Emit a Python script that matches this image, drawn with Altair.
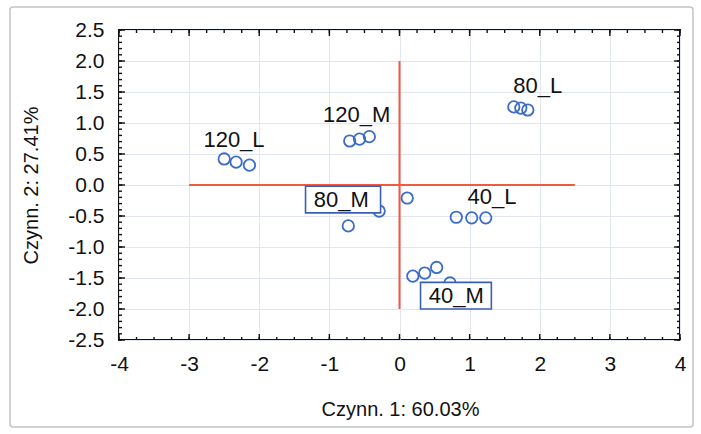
import altair as alt
import pandas as pd

# --- data ---
groups = ["120_L"] * 3 + ["120_M"] * 3 + ["80_L"] * 3 + ["80_M"] * 3 + ["40_L"] * 3 + ["40_M"] * 4
pc1 = [-2.50, -2.33, -2.14,
       -0.71, -0.57, -0.43,
       1.63, 1.73, 1.83,
       -0.29, -0.73, 0.11,
       0.81, 1.03, 1.23,
       0.19, 0.36, 0.53, 0.72]
pc2 = [0.42, 0.37, 0.32,
       0.71, 0.74, 0.78,
       1.26, 1.24, 1.21,
       -0.42, -0.66, -0.21,
       -0.52, -0.53, -0.53,
       -1.47, -1.42, -1.33, -1.58]

label_text = ["120_L", "120_M", "80_L", "40_L", "80_M", "40_M"]
label_x = [-2.36, -0.61, 1.97, 1.32, -0.83, 0.81]
label_y = [0.73, 1.13, 1.60, -0.19, -0.24, -1.79]

box_text = ["80_M", "40_M"]
box_x1 = [-1.34, 0.30]
box_x2 = [-0.27, 1.31]
box_y1 = [-0.02, -1.57]
box_y2 = [-0.45, -2.00]

x_ticks = [-4, -3, -2, -1, 0, 1, 2, 3, 4]
y_ticks = [-2.5, -2.0, -1.5, -1.0, -0.5, 0.0, 0.5, 1.0, 1.5, 2.0, 2.5]
x_minor = [round(-4 + 0.25 * i, 2) for i in range(33)]
y_minor = [round(-2.5 + 0.1 * i, 2) for i in range(51)]

# reference axes (red cross)
hline = {"x1": [-3.0], "x2": [2.5], "y": [0.0]}
vline = {"x": [0.0], "y1": [-2.0], "y2": [2.0]}

W, H = 561, 310
FONT = "Liberation Sans"

pts = pd.DataFrame({"g": groups, "pc1": pc1, "pc2": pc2})
labs = pd.DataFrame({"t": label_text, "x": label_x, "y": label_y})
boxes = pd.DataFrame({"t": box_text, "x1": box_x1, "x2": box_x2, "y1": box_y1, "y2": box_y2})

xs = alt.Scale(domain=[-4, 4], nice=False, zero=False)
ys = alt.Scale(domain=[-2.5, 2.5], nice=False, zero=False)

XA = alt.Axis(values=x_ticks, ticks=False, domain=False, grid=True, gridColor="#e2e5f2",
              gridWidth=1, labelFontSize=21, labelFont=FONT, labelColor="#111",
              labelPadding=13, labelOverlap=False, labelFlush=False,
              labelExpr="replace(format(datum.value, 'd'), '\u2212', '-')",
              title="Czynn. 1: 60.03%", titleFont=FONT, titleFontSize=20,
              titleFontWeight="normal", titleColor="#111",
              titleX=281, titleY=69, titleBaseline="middle", titleAlign="center")
YA = alt.Axis(values=y_ticks, ticks=False, domain=False, grid=True, gridColor="#e2e5f2",
              gridWidth=1, labelFontSize=21, labelFont=FONT, labelColor="#111",
              labelPadding=15, labelOverlap=False, labelFlush=False,
              labelExpr="replace(format(datum.value, '.1f'), '\u2212', '-')",
              title="Czynn. 2: 27.41%", titleFont=FONT,
              titleFontSize=20, titleFontWeight="normal", titleColor="#111",
              titleX=-88, titleY=155, titleAngle=270, titleBaseline="middle",
              titleAlign="center")

border = alt.Chart(pd.DataFrame({"a": [0]})).mark_rect(
    fill="white", fillOpacity=0, stroke="#c4c4c4", strokeWidth=1.5, cornerRadius=3
).encode(x=alt.value(-109), x2=alt.value(574), y=alt.value(-23), y2=alt.value(397))

red = "#f2593d"
h = alt.Chart(pd.DataFrame(hline)).mark_rule(color=red, strokeWidth=2).encode(
    x=alt.X("x1:Q", scale=xs, axis=XA), x2="x2:Q", y=alt.Y("y:Q", scale=ys, axis=YA))
v = alt.Chart(pd.DataFrame(vline)).mark_rule(color=red, strokeWidth=2).encode(
    x=alt.X("x:Q", scale=xs, axis=XA), y=alt.Y("y1:Q", scale=ys, axis=YA), y2="y2:Q")

points = alt.Chart(pts).mark_point(shape="circle", filled=False, color="#3b6cc9",
                                   strokeWidth=1.8, size=130, opacity=1).encode(
    x=alt.X("pc1:Q", scale=xs, axis=XA), y=alt.Y("pc2:Q", scale=ys, axis=YA))

boxmarks = alt.Chart(boxes).mark_rect(fill="white", stroke="#3b5fb5", strokeWidth=1.6).encode(
    x=alt.X("x1:Q", scale=xs, axis=XA), x2="x2:Q",
    y=alt.Y("y1:Q", scale=ys, axis=YA), y2="y2:Q")

texts = alt.Chart(labs).mark_text(font=FONT, fontSize=22, color="#111",
                                  align="center", baseline="middle").encode(
    x=alt.X("x:Q", scale=xs, axis=XA), y=alt.Y("y:Q", scale=ys, axis=YA), text="t:N")

def xtick(vals, y0, y1):
    return alt.Chart(pd.DataFrame({"v": vals})).mark_rule(color="#111", strokeWidth=1.4).encode(
        x=alt.X("v:Q", scale=xs, axis=XA), y=alt.value(y0), y2=alt.value(y1))

def ytick(vals, x0, x1):
    return alt.Chart(pd.DataFrame({"v": vals})).mark_rule(color="#111", strokeWidth=1.4).encode(
        y=alt.Y("v:Q", scale=ys, axis=YA), x=alt.value(x0), x2=alt.value(x1))

ticks = [
    xtick(x_minor, H, H - 3), xtick(x_ticks, H, H - 6),
    xtick(x_minor, 0, 3), xtick(x_ticks, 0, 6),
    ytick(y_minor, 0, 3), ytick(y_ticks, 0, 6),
    ytick(y_minor, W, W - 3), ytick(y_ticks, W, W - 6),
]

chart = alt.layer(border, h, v, points, boxmarks, texts, *ticks).properties(
    width=W, height=H,
    autosize=alt.AutoSizeParams(type="none"),
    padding={"left": 119, "top": 30, "right": 21, "bottom": 94},
    background="white",
).configure_view(stroke="#111", strokeWidth=2).configure_axis(labelOverlap=False)

chart.save("out.html", embed_options={"renderer": "svg", "actions": False})
